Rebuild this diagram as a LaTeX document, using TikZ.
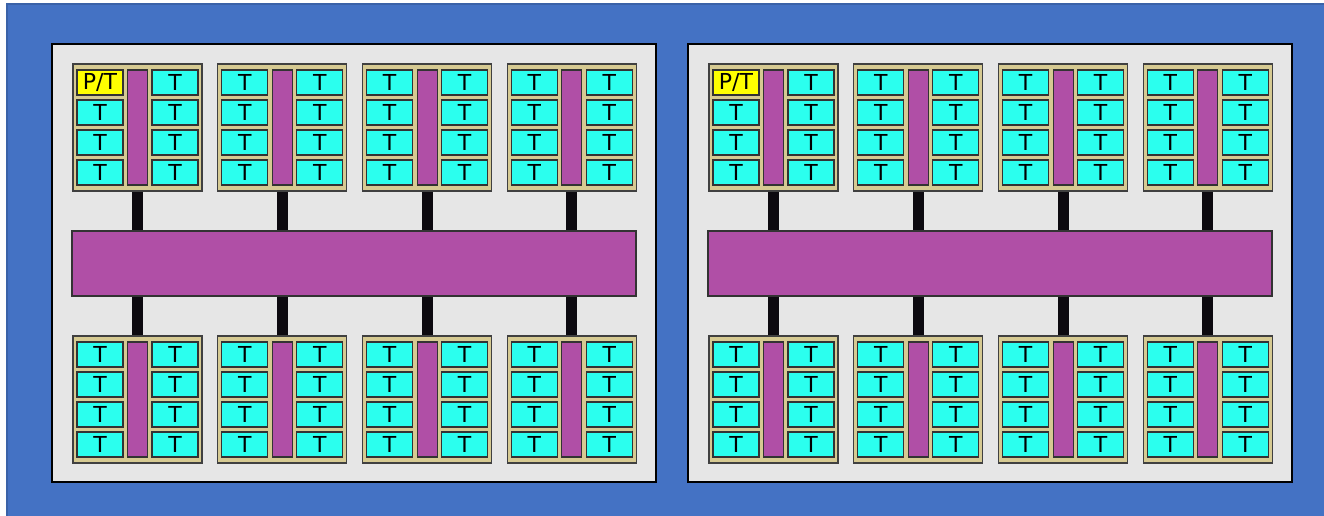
\documentclass[tikz,border=0pt]{standalone}
\usepackage{fontspec}
\setmainfont{DejaVu Sans}
\usepackage{tikz}
\usetikzlibrary{positioning,calc}
\definecolor{slideblue}{HTML}{4472C4}
\definecolor{slideedge}{HTML}{3A62A8}
\definecolor{boardgray}{HTML}{E6E6E6}
\definecolor{tileframe}{HTML}{D6CA92}
\definecolor{tilecyan}{HTML}{2BFFEE}
\definecolor{tileyellow}{HTML}{FFFF00}
\definecolor{hubpurple}{HTML}{B04FA6}
\definecolor{linkblack}{HTML}{0D0A10}
\tikzset{
  board/.style={draw=black, line width=1.3pt, fill=boardgray,
    inner sep=0pt, minimum width=604, minimum height=438},
  bus/.style={draw=black!80, line width=1.2pt, fill=hubpurple,
    inner sep=0pt, minimum width=564, minimum height=65},
  cluster/.style={draw=black!75, line width=1.1pt, fill=tileframe,
    inner sep=0pt, minimum width=129, minimum height=127},
  spine/.style={draw=black!80, line width=1.1pt, fill=hubpurple,
    inner sep=0pt, minimum width=20, minimum height=115},
  tile/.style={draw=black!80, line width=1.3pt, inner sep=0pt,
    minimum width=46, minimum height=25,
    font=\fontsize{22}{22}\selectfont},
  link/.style={draw=linkblack, line width=11pt},
}
\begin{document}
\begin{tikzpicture}[x=1pt,y=-1pt]
\useasboundingbox (0,0) rectangle (1324,516);
% slide background
\fill[slideblue] (6,3) rectangle (1324,516);
\draw[slideedge, line width=2pt] (7,516) -- (7,4) -- (1324,4);

\foreach \p/\dx in {L/0, R/636} {
  \node[board] (board\p) at (354+\dx, 263) {};
  \node[bus] (bus\p) at (354+\dx, 263.5) {};
  \foreach \r/\cy/\first/\side in {t/127.5/1/north, b/399.5/0/south} {
    \foreach \i in {1,...,4} {
      \pgfmathsetmacro\cx{137.5+144.8*(\i-1)+\dx}
      % link to the bus
      \draw[link] (\cx,\cy) coordinate (m\p\r\i) -- (m\p\r\i |- bus\p.\side);
      \node[cluster] (cl\p\r\i) at (\cx,\cy) {};
      \node[spine] (sp\p\r\i) at (cl\p\r\i.center) {};
      \foreach \k/\oy in {1/-45, 2/-15, 3/15, 4/45} {
        \ifnum\numexpr\first*\i*\k\relax=1
          \def\lbl{P/T}\def\tint{tileyellow}%
        \else
          \def\lbl{T}\def\tint{tilecyan}%
        \fi
        \node[tile, fill=\tint] (tl\p\r\i-\k) at (\cx-37.5,\cy+\oy) {\lbl};
        \node[tile, fill=tilecyan] (tr\p\r\i-\k) at (\cx+37.5,\cy+\oy) {T};
      }
    }
  }
}
\end{tikzpicture}
\end{document}
